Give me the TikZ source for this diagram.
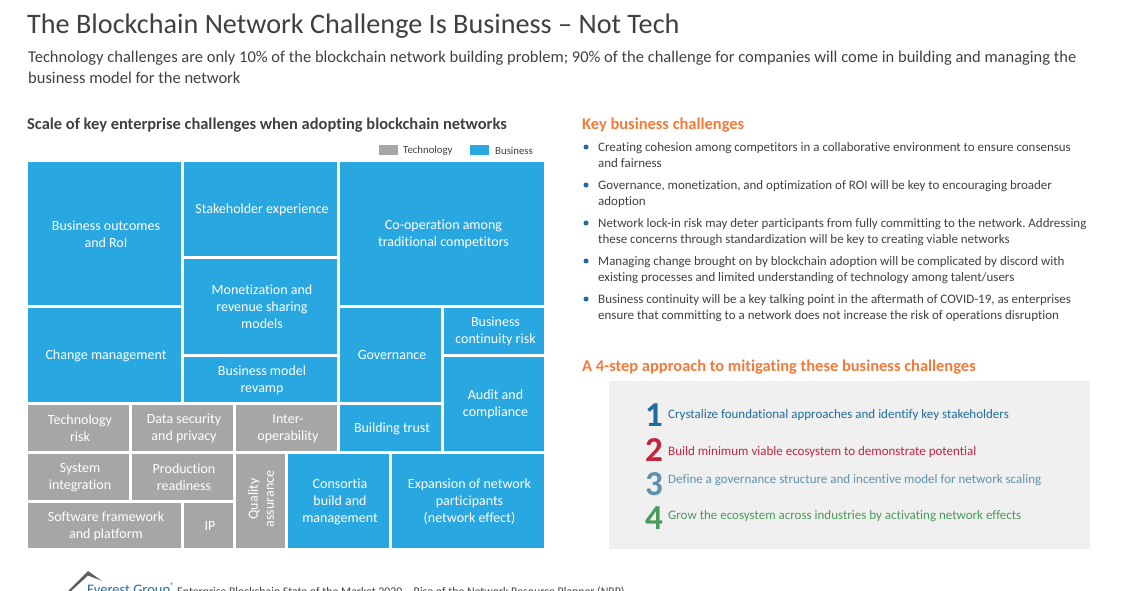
\documentclass[tikz,border=0pt]{standalone}
\usepackage{fontspec}
\setmainfont{Carlito}[Ligatures=NoCommon]
\usetikzlibrary{positioning}
\definecolor{bizblue}{HTML}{29A7E1}
\definecolor{techgray}{HTML}{A6A6A6}
\definecolor{inktext}{HTML}{404040}
\definecolor{headorange}{HTML}{F47A3A}
\definecolor{bulletblue}{HTML}{1F6C9E}
\definecolor{stepone}{HTML}{1F6C9E}
\definecolor{steptwo}{HTML}{C4233C}
\definecolor{stepthree}{HTML}{5F93AD}
\definecolor{stepfour}{HTML}{4A9A58}
\newcommand{\fsize}[2]{\fontsize{#1}{#2}\selectfont}
\frenchspacing

\begin{document}
\begin{tikzpicture}[
    x=1pt, y=-1pt,
    cell/.style={inner sep=0pt, outer sep=0pt, align=center, text=white, font=\fsize{14}{17}},
    boxfill/.style n args={3}{xshift=#2, yshift=#3, preaction={fill=#1, transform canvas={shift={(-#2,-#3)}}}},
    biz/.style={cell, boxfill={bizblue}{1.5pt}{-0.5pt}},
    tech/.style={cell, boxfill={techgray}{1.5pt}{-0.5pt}},
    swatch/.style={inner sep=0pt, minimum width=19, minimum height=10},
    legendtext/.style={anchor=west, inner sep=0pt, text=inktext, font=\fsize{10.8}{12}},
    heading/.style={anchor=west, inner sep=0pt, text=headorange, font=\fsize{16.45}{19}\bfseries},
    bullet/.style={circle, fill=bulletblue, inner sep=0pt, minimum size=5},
    item/.style={anchor=north west, inner sep=0pt, align=left, text=inktext, font=\fsize{12.95}{16}},
    stepnum/.style={inner sep=0pt, font=\fsize{35}{35}\bfseries},
    steptext/.style={anchor=west, inner sep=0pt, font=\fsize{13}{16}}
]
\useasboundingbox (0,0) rectangle (1130,591);

% Title block
\node[anchor=west, inner sep=0pt, text=inktext, font=\fsize{28.2}{31}] (title) at (27,26) {The Blockchain Network Challenge Is Business -- Not Tech};
\node[anchor=north west, inner sep=0pt, align=left, text=inktext, font=\fsize{16.5}{21}] (subtitle) at (28,51)
    {Technology challenges are only 10\% of the blockchain network building problem; 90\% of the challenge for companies will come in building and managing the\\business model for the network};

% Treemap
\node[anchor=west, inner sep=0pt, text=inktext, font=\fsize{16.45}{19}\bfseries] (maphead) at (27,125) {Scale of key enterprise challenges when adopting blockchain networks};
\node[swatch, fill=techgray] (techkey) at (388.5,150) {};
\node[legendtext] (techlabel) at (403,151) {Technology};
\node[swatch, fill=bizblue] (bizkey) at (479.5,150) {};
\node[legendtext] (bizlabel) at (495,151) {Business};

\node[biz, minimum width=153, minimum height=143] (outcomes) at (104.5,233.5) {Business outcomes\\and RoI};
\node[biz, minimum width=153, minimum height=94] (stakeholder) at (260.5,209) {Stakeholder experience};
\node[biz, minimum width=204, minimum height=143] (cooperation) at (442,233.5) {Co-operation among\\traditional competitors};
\node[biz, minimum width=153, minimum height=95] (monetization) at (260.5,306.5) {Monetization and\\revenue sharing\\models};
\node[biz, minimum width=153, minimum height=94] (change) at (104.5,355) {Change management};
\node[biz, minimum width=153, minimum height=45] (revamp) at (260.5,379.5) {Business model\\revamp};
\node[biz, minimum width=101, minimum height=94] (governance) at (390.5,355) {Governance};
\node[biz, minimum width=100, minimum height=46] (continuity) at (494,331) {Business\\continuity risk};
\node[biz, minimum width=100, minimum height=94] (audit) at (494,404) {Audit and\\compliance};
\node[biz, minimum width=101, minimum height=46] (trust) at (390.5,428) {Building trust};
\node[tech, minimum width=101, minimum height=46] (techrisk) at (78.5,428) {Technology\\risk};
\node[tech, minimum width=101, minimum height=46] (datasec) at (182.5,428) {Data security\\and privacy};
\node[tech, minimum width=101, minimum height=46] (interop) at (286.5,428) {Inter-\\operability};
\node[tech, minimum width=101, minimum height=46] (sysint) at (78.5,477) {System\\integration};
\node[tech, minimum width=101, minimum height=46] (prodready) at (182.5,477) {Production\\readiness};
\node[tech, minimum width=153, minimum height=45] (software) at (104.5,525.5) {Software framework\\and platform};
\node[tech, minimum width=49, minimum height=45] (ip) at (208.5,525.5) {IP};
\node[cell, boxfill={techgray}{0.5pt}{2pt}, font=\fsize{14}{16}, minimum width=94, minimum height=49, rotate=90] (quality) at (260.5,501) {Quality\\assurance};
\node[biz, minimum width=101, minimum height=94] (consortia) at (338.5,501) {Consortia\\build and\\management};
\node[biz, minimum width=152, minimum height=94] (expansion) at (468,501) {Expansion of network\\participants\\(network effect)};

% Key business challenges
\node[heading] (keyhead) at (582,125) {Key business challenges};
\node[bullet] (b1) at (586,147) {};
\node[item] (i1) at (598,142) {Creating cohesion among competitors in a collaborative environment to ensure consensus\\and fairness};
\node[bullet] (b2) at (586,185) {};
\node[item] (i2) at (598,180) {Governance, monetization, and optimization of ROI will be key to encouraging broader\\adoption};
\node[bullet] (b3) at (586,223) {};
\node[item] (i3) at (598,218) {Network lock-in risk may deter participants from fully committing to the network. Addressing\\these concerns through standardization will be key to creating viable networks};
\node[bullet] (b4) at (586,261) {};
\node[item] (i4) at (598,256) {Managing change brought on by blockchain adoption will be complicated by discord with\\existing processes and limited understanding of technology among talent/users};
\node[bullet] (b5) at (586,299) {};
\node[item] (i5) at (598,294) {Business continuity will be a key talking point in the aftermath of COVID-19, as enterprises\\ensure that committing to a network does not increase the risk of operations disruption};

% 4-step approach
\node[heading] (stephead) at (582,367) {A 4-step approach to mitigating these business challenges};
\node[fill=black!6, inner sep=0pt, minimum width=481, minimum height=168] (stepbox) at (849.5,465) {};
\node[stepnum, text=stepone] (n1) at (654,415) {1};
\node[steptext, text=stepone] (s1) at (668,415) {Crystalize foundational approaches and identify key stakeholders};
\node[stepnum, text=steptwo] (n2) at (654,450) {2};
\node[steptext, text=steptwo] (s2) at (668,452) {Build minimum viable ecosystem to demonstrate potential};
\node[stepnum, text=stepthree] (n3) at (654,484) {3};
\node[steptext, text=stepthree] (s3) at (668,480) {Define a governance structure and incentive model for network scaling};
\node[stepnum, text=stepfour] (n4) at (654,518) {4};
\node[steptext, text=stepfour] (s4) at (668,516) {Grow the ecosystem across industries by activating network effects};

% Footer, cut off by the page edge
\begin{scope}
\clip (0,0) rectangle (1130,591);
\fill[inktext!85] (67,592) -- (88,571) -- (102,581) -- (88,575.5) -- (70,592) -- cycle;
\node[anchor=base west, inner sep=0pt, text=bulletblue, font=\fsize{14.5}{18}] (brand) at (87,594) {Everest Group\textsuperscript{\fsize{8}{10}®}};
\node[anchor=base west, inner sep=0pt, text=inktext, font=\fsize{11.8}{13}] (source) at (177,595) {Enterprise Blockchain State of the Market 2020 -- Rise of the Network Resource Planner (NRP)};
\end{scope}
\end{tikzpicture}
\end{document}
